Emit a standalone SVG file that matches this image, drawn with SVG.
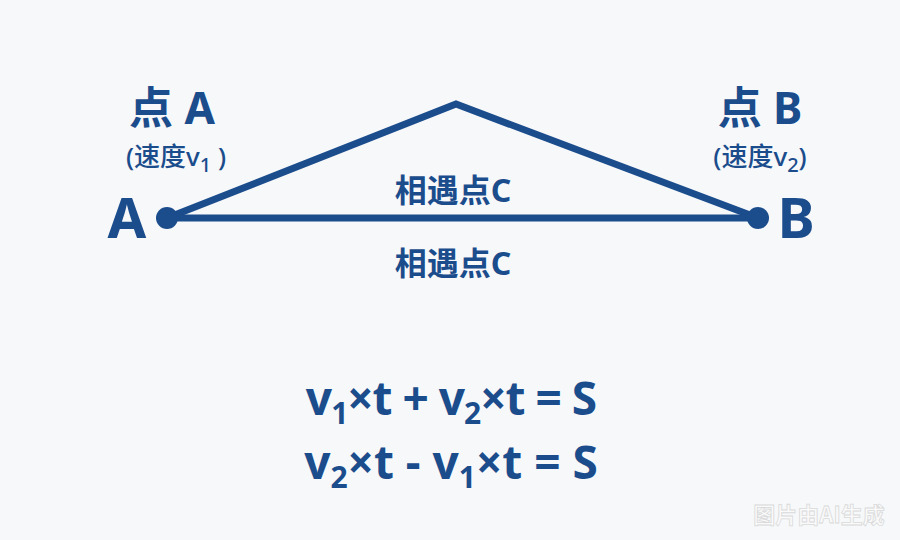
<svg xmlns="http://www.w3.org/2000/svg" width="900" height="540" viewBox="0 0 900 540">
<defs>
<style>
.t{font-family:"Noto Sans","Noto Sans CJK SC",sans-serif;font-weight:700;fill:#1b4c8c}
.s{font-weight:500}
.ln{stroke:#1b4c8c;stroke-width:7;fill:none;stroke-linejoin:miter}
.dot{fill:#1b4c8c}
.wm{font-family:"Noto Sans CJK SC",sans-serif;font-weight:700;fill:#fafafa;stroke:#d9d9d9;stroke-width:0.8}
</style>
</defs>
<rect width="900" height="540" fill="#f6f8fa"/>
<g id="connectors">
<polyline class="ln" points="167,218 456,104 758,218"/>
<line class="ln" x1="167" y1="218" x2="758" y2="218"/>
</g>
<g id="nodeA">
<circle class="dot" cx="167" cy="218" r="11"/>
<text class="t" x="127" y="238" font-size="56" text-anchor="middle">A</text>
<text class="t" x="172" y="124" font-size="44" text-anchor="middle">点 A</text>
<text class="t s" x="176" y="166" font-size="26" text-anchor="middle">(速度v<tspan font-size="20" dy="6">1</tspan><tspan dy="-6"> )</tspan></text>
</g>
<g id="nodeB">
<circle class="dot" cx="758" cy="218" r="11"/>
<text class="t" x="796" y="238" font-size="56" text-anchor="middle">B</text>
<text class="t" x="760" y="124" font-size="44" text-anchor="middle">点 B</text>
<text class="t s" x="760" y="166" font-size="26" text-anchor="middle">(速度v<tspan font-size="20" dy="6">2</tspan><tspan dy="-6">)</tspan></text>
</g>
<g id="labelC1">
<text class="t" x="453" y="202" font-size="32" text-anchor="middle">相遇点C</text>
</g>
<g id="labelC2">
<text class="t" x="453" y="275" font-size="32" text-anchor="middle">相遇点C</text>
</g>
<g id="equations">
<text class="t" x="451" y="415" font-size="46" text-anchor="middle" letter-spacing="-1">v<tspan font-size="30" dy="9">1</tspan><tspan dy="-9">×t + v</tspan><tspan font-size="30" dy="9">2</tspan><tspan dy="-9">×t = S</tspan></text>
<text class="t" x="451" y="479" font-size="46" text-anchor="middle">v<tspan font-size="30" dy="9">2</tspan><tspan dy="-9">×t - v</tspan><tspan font-size="30" dy="9">1</tspan><tspan dy="-9">×t = S</tspan></text>
</g>
<text class="wm" x="819" y="523" font-size="22" text-anchor="middle">图片由AI生成</text>
</svg>
